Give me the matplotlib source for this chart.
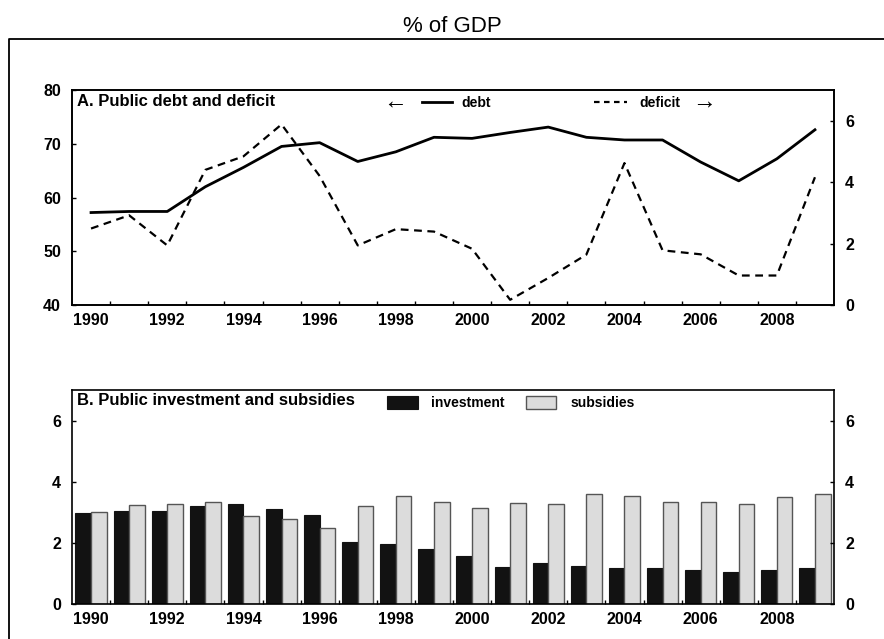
import matplotlib
matplotlib.use("Agg")
import matplotlib.pyplot as plt
from matplotlib.lines import Line2D
import numpy as np

plt.rcParams['font.family'] = ['Liberation Sans', 'DejaVu Sans']

years = list(range(1990, 2010))

# Panel A: public debt (left axis) and deficit (right axis), % of GDP
debt = [57.2, 57.4, 57.4, 62.0, 65.6, 69.5, 70.2, 66.7, 68.5, 71.2,
        71.0, 72.1, 73.1, 71.2, 70.7, 70.7, 66.6, 63.1, 67.2, 72.6]
deficit = [2.49, 2.92, 1.94, 4.40, 4.84, 5.88, 4.20, 1.94, 2.47, 2.39,
           1.83, 0.17, 0.88, 1.64, 4.62, 1.78, 1.65, 0.96, 0.96, 4.16]

# Panel B: public investment and subsidies, % of GDP
investment = [2.97, 3.04, 3.04, 3.22, 3.26, 3.11, 2.92, 2.04, 1.95, 1.81,
              1.57, 1.20, 1.33, 1.23, 1.17, 1.17, 1.11, 1.06, 1.12, 1.17]
subsidies = [3.00, 3.24, 3.26, 3.33, 2.87, 2.77, 2.50, 3.21, 3.52, 3.33,
             3.14, 3.32, 3.27, 3.60, 3.52, 3.35, 3.35, 3.26, 3.49, 3.60]

label_years = list(range(1990, 2009, 2))
half_years = [y + 0.5 for y in range(1990, 2009)]

W, H = 884, 639
fig = plt.figure(figsize=(W / 100, H / 100), dpi=100)

def px_axes(left, top, right, bottom):
    return fig.add_axes([left / W, 1 - bottom / H, (right - left) / W, (bottom - top) / H])

tick_font = dict(fontsize=11.5, fontweight='bold')

def style_x(ax):
    ax.set_xlim(1989.5, 2009.5)
    ax.set_xticks(label_years)
    ax.set_xticklabels([str(y) for y in label_years], **tick_font)
    ax.set_xticks(half_years, minor=True)
    ax.tick_params(axis='x', which='major', length=0, pad=6)
    ax.tick_params(axis='x', which='minor', direction='in', length=3, width=1)
    for s in ax.spines.values():
        s.set_linewidth(1.2)

# ---- Panel A
axA = px_axes(72, 90, 834, 305)
axA.plot(years, debt, color='black', lw=2.0, label='debt')
axA.set_ylim(40, 80)
axA.set_yticks([40, 50, 60, 70, 80])
axA.set_yticklabels(['40', '50', '60', '70', '80'], **tick_font)
axA.tick_params(axis='y', direction='in', length=3, width=1, pad=8)
style_x(axA)

axA2 = axA.twinx()
axA2.plot(years, deficit, color='black', lw=1.6, linestyle=(0, (3.5, 2.5)), label='deficit')
axA2.set_ylim(0, 7)
axA2.set_yticks([0, 2, 4, 6])
axA2.set_yticklabels(['0', '2', '4', '6'], **tick_font)
axA2.tick_params(axis='y', direction='in', length=3, width=1, pad=8)
for s in axA2.spines.values():
    s.set_linewidth(1.2)

axA.text(0.007, 0.948, 'A. Public debt and deficit', transform=axA.transAxes,
         fontsize=12, fontweight='bold', va='center', ha='left')

leg_font = dict(size=10, weight='bold')
debt_h = Line2D([], [], color='black', lw=2.0)
def_h = Line2D([], [], color='black', lw=1.6, linestyle=(0, (2.5, 2)))
l1 = axA2.legend([debt_h], ['debt'], loc='center left', bbox_to_anchor=(0.459, 0.94),
                 frameon=False, borderpad=0, borderaxespad=0, handlelength=2.15,
                 handletextpad=0.7, prop=leg_font)
axA2.add_artist(l1)
axA2.legend([def_h], ['deficit'], loc='center left', bbox_to_anchor=(0.685, 0.94),
            frameon=False, borderpad=0, borderaxespad=0, handlelength=2.4,
            handletextpad=0.9, prop=leg_font)
axA.text((395 - 72) / 762, 0.945, '\u2190', transform=axA.transAxes,
         fontsize=17, ha='center', va='center')
axA.text((704 - 72) / 762, 0.945, '\u2192', transform=axA.transAxes,
         fontsize=17, ha='center', va='center')

# ---- Panel B
axB = px_axes(72, 390, 834, 604)
x = np.array(years)
bw = 0.41
axB.bar(x - bw / 2, investment, width=bw, color='#121212', edgecolor='#121212',
        linewidth=0.8, label='investment')
axB.bar(x + bw / 2, subsidies, width=bw, color='#dcdcdc', edgecolor='#555555',
        linewidth=1.0, label='subsidies')
axB.set_ylim(0, 7)
axB.set_yticks([0, 2, 4, 6])
axB.set_yticklabels(['0', '2', '4', '6'], **tick_font)
axB.tick_params(axis='y', direction='in', length=3, width=1, pad=8,
                left=True, right=True, labelleft=True, labelright=True)
style_x(axB)

axB.text(0.007, 0.95, 'B. Public investment and subsidies', transform=axB.transAxes,
         fontsize=12, fontweight='bold', va='center', ha='left')
axB.legend(loc='center left', bbox_to_anchor=((387 - 72) / 762, 0.94), ncol=2,
           frameon=False, borderpad=0, borderaxespad=0, handlelength=2.2,
           handleheight=1.15, handletextpad=1.0, columnspacing=1.5, prop=leg_font)

# ---- Title and outer frame
fig.text(452 / W, 1 - 26 / H, '% of GDP', fontsize=16, ha='center', va='center')
fig.add_artist(Line2D([9 / W, 9 / W, 1.0], [0.0, 1 - 39 / H, 1 - 39 / H],
                      transform=fig.transFigure, color='black', lw=1.3))

fig.savefig('out.png', dpi=100)
